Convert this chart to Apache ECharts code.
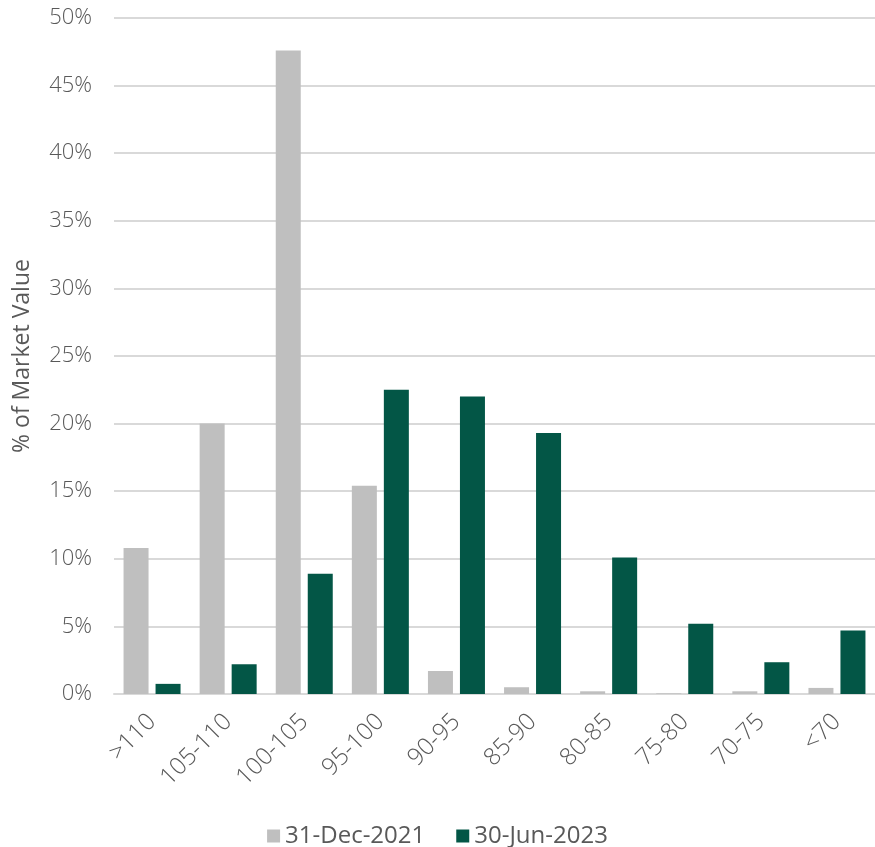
<!DOCTYPE html>
<html>
<head>
<meta charset="utf-8">
<script src="https://cdn.jsdelivr.net/npm/echarts@6/dist/echarts.min.js"></script>
<style>
html,body{margin:0;padding:0;background:#fff;}
#chart{width:875px;height:847px;}
</style>
</head>
<body>
<div id="chart"></div>
<script>
var categories = ['>110','105-110','100-105','95-100','90-95','85-90','80-85','75-80','70-75','<70'];
var dec2021 = [10.8, 20.0, 47.6, 15.4, 1.7, 0.5, 0.2, 0.05, 0.2, 0.45];
var jun2023 = [0.75, 2.2, 8.9, 22.5, 22.0, 19.3, 10.1, 5.2, 2.35, 4.7];
var seriesNames = ['31-Dec-2021', '30-Jun-2023'];

var chart = echarts.init(document.getElementById('chart'));
var font = '"Open Sans", sans-serif';
chart.setOption({
  animation: false,
  grid: {left: 114, width: 767, top: 18, height: 676},
  legend: {
    data: seriesNames,
    top: 819,
    left: 'center',
    itemWidth: 13,
    itemHeight: 13,
    itemGap: 31,
    icon: 'rect',
    textStyle: {fontFamily: font, fontSize: 24, color: '#595959'}
  },
  xAxis: {
    type: 'category',
    data: categories,
    axisTick: {show: false},
    axisLine: {lineStyle: {color: '#d9d9d9', width: 2}},
    axisLabel: {rotate: 45, fontFamily: font, fontWeight: 300, fontSize: 24, color: '#595959', margin: 24, interval: 0}
  },
  yAxis: {
    type: 'value',
    min: 0, max: 50, interval: 5,
    name: '% of Market Value',
    nameLocation: 'middle',
    nameGap: 80,
    nameTextStyle: {fontFamily: font, fontSize: 23, color: '#595959'},
    axisLabel: {formatter: '{value}%', fontFamily: font, fontWeight: 300, fontSize: 22, color: '#595959', margin: 22},
    splitLine: {lineStyle: {color: '#d9d9d9', width: 2}}
  },
  series: [
    {name: seriesNames[0], type: 'bar', data: dec2021, barWidth: 25, barGap: '28%',
     itemStyle: {color: '#bfbfbf'}},
    {name: seriesNames[1], type: 'bar', data: jun2023, barWidth: 25, barGap: '28%',
     itemStyle: {color: '#035646'}}
  ]
});
</script>
</body>
</html>
